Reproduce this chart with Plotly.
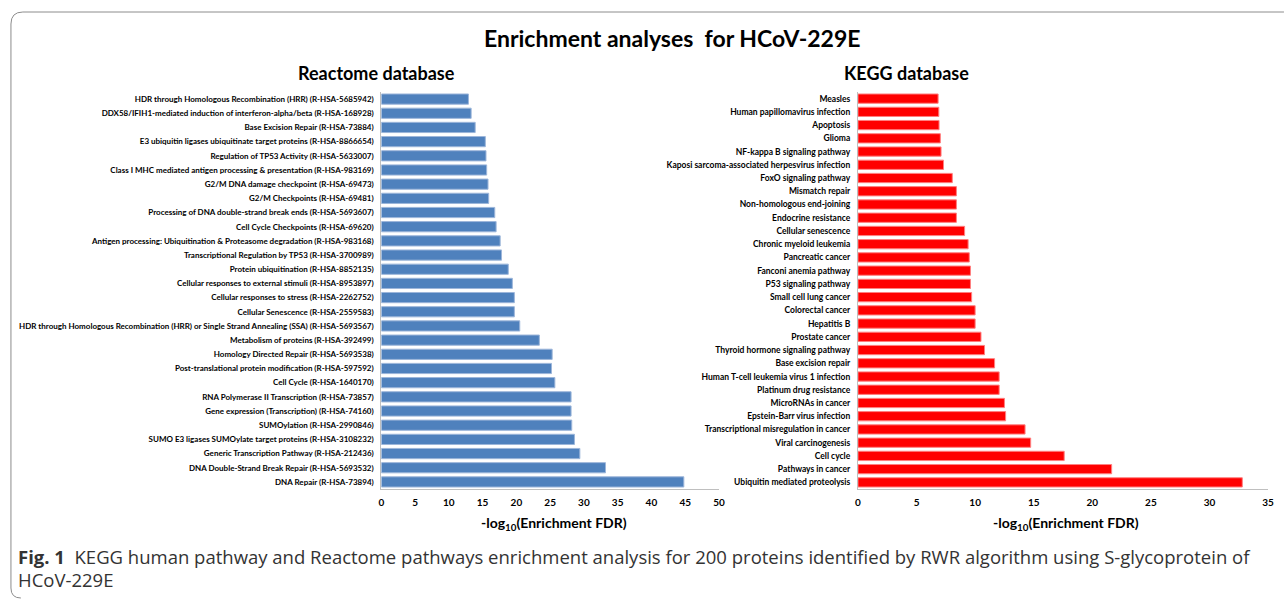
import plotly.graph_objects as go

W, H = 1285, 599

reactome_terms = [
    "HDR through Homologous Recombination (HRR) (R-HSA-5685942)",
    "DDX58/IFIH1-mediated induction of interferon-alpha/beta (R-HSA-168928)",
    "Base Excision Repair (R-HSA-73884)",
    "E3 ubiquitin ligases ubiquitinate target proteins (R-HSA-8866654)",
    "Regulation of TP53 Activity (R-HSA-5633007)",
    "Class I MHC mediated antigen processing & presentation (R-HSA-983169)",
    "G2/M DNA damage checkpoint (R-HSA-69473)",
    "G2/M Checkpoints (R-HSA-69481)",
    "Processing of DNA double-strand break ends (R-HSA-5693607)",
    "Cell Cycle Checkpoints (R-HSA-69620)",
    "Antigen processing: Ubiquitination & Proteasome degradation (R-HSA-983168)",
    "Transcriptional Regulation by TP53 (R-HSA-3700989)",
    "Protein ubiquitination (R-HSA-8852135)",
    "Cellular responses to external stimuli (R-HSA-8953897)",
    "Cellular responses to stress (R-HSA-2262752)",
    "Cellular Senescence (R-HSA-2559583)",
    "HDR through Homologous Recombination (HRR) or Single Strand Annealing (SSA) (R-HSA-5693567)",
    "Metabolism of proteins (R-HSA-392499)",
    "Homology Directed Repair (R-HSA-5693538)",
    "Post-translational protein modification (R-HSA-597592)",
    "Cell Cycle (R-HSA-1640170)",
    "RNA Polymerase II Transcription (R-HSA-73857)",
    "Gene expression (Transcription) (R-HSA-74160)",
    "SUMOylation (R-HSA-2990846)",
    "SUMO E3 ligases SUMOylate target proteins (R-HSA-3108232)",
    "Generic Transcription Pathway (R-HSA-212436)",
    "DNA Double-Strand Break Repair (R-HSA-5693532)",
    "DNA Repair (R-HSA-73894)",
]
reactome_values = [12.9, 13.3, 13.9, 15.4, 15.5, 15.6, 15.8, 15.9, 16.8, 17.0,
                   17.6, 17.8, 18.8, 19.4, 19.7, 19.7, 20.5, 23.4, 25.3, 25.2,
                   25.7, 28.1, 28.1, 28.2, 28.6, 29.4, 33.2, 44.8]

kegg_terms = [
    "Measles", "Human papillomavirus infection", "Apoptosis", "Glioma",
    "NF-kappa B signaling pathway", "Kaposi sarcoma-associated herpesvirus infection",
    "FoxO signaling pathway", "Mismatch repair", "Non-homologous end-joining",
    "Endocrine resistance", "Cellular senescence", "Chronic myeloid leukemia",
    "Pancreatic cancer", "Fanconi anemia pathway", "P53 signaling pathway",
    "Small cell lung cancer", "Colorectal cancer", "Hepatitis B", "Prostate cancer",
    "Thyroid hormone signaling pathway", "Base excision repair",
    "Human T-cell leukemia virus 1 infection", "Platinum drug resistance",
    "MicroRNAs in cancer", "Epstein-Barr virus infection",
    "Transcriptional misregulation in cancer", "Viral carcinogenesis", "Cell cycle",
    "Pathways in cancer", "Ubiquitin mediated proteolysis",
]
kegg_values = [6.84, 6.9, 6.92, 7.03, 7.09, 7.3, 8.05, 8.4, 8.4, 8.4,
               9.1, 9.4, 9.5, 9.6, 9.6, 9.7, 10.0, 10.0, 10.5, 10.8,
               11.66, 12.05, 12.05, 12.5, 12.6, 14.26, 14.74, 17.6, 21.65, 32.8]

left_ticks = [0, 5, 10, 15, 20, 25, 30, 35, 40, 45, 50]
right_ticks = [0, 5, 10, 15, 20, 25, 30, 35]


def px(x):
    return x / W


def py(y):
    return 1 - y / H


FONT = "Lato"

fig = go.Figure()
fig.add_trace(go.Bar(
    x=reactome_values, y=reactome_terms, orientation="h",
    marker=dict(color="#4F81BD", line=dict(color="#9DB6DA", width=1)),
    width=0.72, xaxis="x", yaxis="y", showlegend=False,
))
fig.add_trace(go.Bar(
    x=kegg_values, y=kegg_terms, orientation="h",
    marker=dict(color="#FF0000", line=dict(color="#FF8080", width=1)),
    width=0.7, xaxis="x2", yaxis="y2", showlegend=False,
))

axis_common = dict(
    showgrid=False, zeroline=False, showline=True, linecolor="#BFBFBF", linewidth=1,
    ticks="", fixedrange=True,
)
xtickfont = dict(family=FONT, size=10, color="#000", weight="bold")
ytickfont = dict(family=FONT, size=8, color="#000", weight="bold")
ytickfont2 = dict(family=FONT, size=8.5, color="#000", weight="bold")

fig.update_layout(
    width=W, height=H,
    margin=dict(l=0, r=0, t=0, b=0),
    paper_bgcolor="white", plot_bgcolor="white",
    bargap=0.3,
    xaxis=dict(domain=[px(381), px(721)], range=[0, 50], tickvals=left_ticks,
               tickfont=xtickfont, anchor="y", ticklabelstandoff=4, **axis_common),
    yaxis=dict(domain=[py(489), py(92)], autorange="reversed", tickfont=ytickfont,
               anchor="x", ticklabelstandoff=5, type="category", **axis_common),
    xaxis2=dict(domain=[px(861), px(1274)], range=[0, 35], tickvals=right_ticks,
                tickfont=xtickfont, anchor="y2", ticklabelstandoff=4, **axis_common),
    yaxis2=dict(domain=[py(489), py(92)], autorange="reversed", tickfont=ytickfont2,
                anchor="x2", ticklabelstandoff=5, type="category", **axis_common),
)

annotations = [
    dict(text="<b>Enrichment analyses  for HCoV-229E</b>", x=px(674), y=py(38),
         font=dict(family=FONT, size=23, color="#000")),
    dict(text="<b>Reactome database</b>", x=px(376), y=py(73),
         font=dict(family=FONT, size=18, color="#000")),
    dict(text="<b>KEGG database</b>", x=px(910), y=py(73),
         font=dict(family=FONT, size=18, color="#000")),
    dict(text="<b>-log<sub>10</sub>(Enrichment FDR)</b>", x=px(555), y=py(523),
         font=dict(family=FONT, size=14, color="#000")),
    dict(text="<b>-log<sub>10</sub>(Enrichment FDR)</b>", x=px(1070), y=py(523),
         font=dict(family=FONT, size=14, color="#000")),
]
for a in annotations:
    a.update(xref="paper", yref="paper", showarrow=False, xanchor="center", yanchor="middle")
    fig.add_annotation(**a)

fig.add_annotation(
    text="<b>Fig. 1</b>  KEGG human pathway and Reactome pathways enrichment analysis for 200 proteins identified by RWR algorithm using S-glycoprotein of",
    xref="paper", yref="paper", x=px(13), y=py(556), xanchor="left", yanchor="middle",
    showarrow=False, font=dict(family="Open Sans", size=18.5, color="#333"),
)
fig.add_annotation(
    text="HCoV-229E",
    xref="paper", yref="paper", x=px(13), y=py(579), xanchor="left", yanchor="middle",
    showarrow=False, font=dict(family="Open Sans", size=18.5, color="#333"),
)

# rounded frame (open to the right)
path = (f"M {px(1290)},{py(12)} L {px(20)},{py(12)} "
        f"Q {px(8)},{py(12)} {px(8)},{py(24)} L {px(8)},{py(588)} "
        f"Q {px(8)},{py(598)} {px(18)},{py(598)}")
fig.add_shape(type="path", path=path, xref="paper", yref="paper",
              line=dict(color="#8C8C8C", width=1))

fig.write_html("out.html", config={"displayModeBar": False},
               post_script="document.body.style.margin='0';document.body.style.overflow='hidden';")
